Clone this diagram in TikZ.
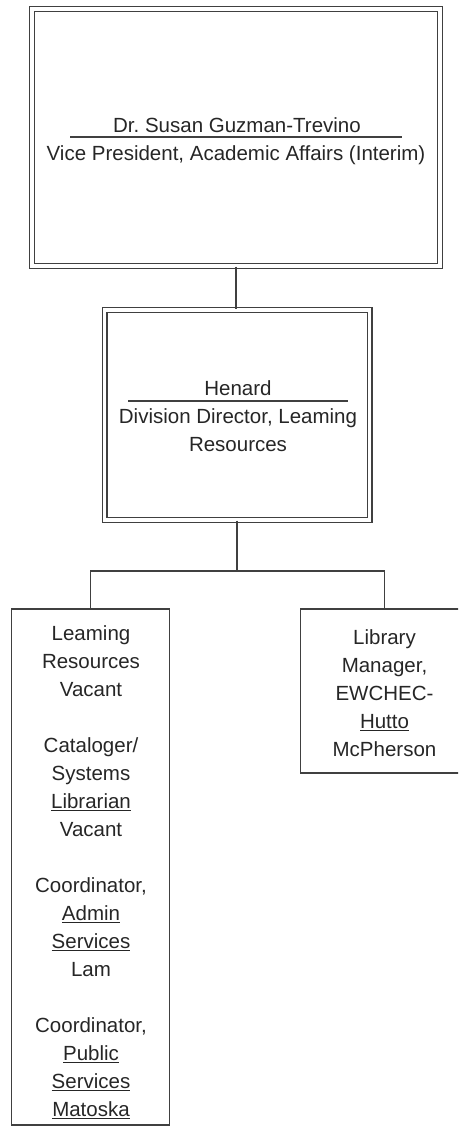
\documentclass[tikz,border=0pt]{standalone}
\usepackage{fontspec}
\setmainfont{Liberation Sans}
\usetikzlibrary{positioning, calc}

\definecolor{linegray}{RGB}{64,64,64}
\definecolor{txtgray}{RGB}{38,38,38}

\newlength{\undlwd}
\newcommand{\undl}[1]{\settowidth{\undlwd}{#1}\rlap{\rule[-3pt]{\undlwd}{1.3pt}}#1}
\frenchspacing

\begin{document}
\begin{tikzpicture}[x=1pt, y=-1pt,
  dbox/.style={draw=linegray, line width=1.2pt, double, double distance=3.6pt},
  sbox/.style={draw=linegray, line width=1.3pt},
  txt/.style={text=txtgray, font=\fontsize{20.5}{28}\selectfont, align=center,
    inner sep=0pt, anchor=base},
  namerule/.style={draw=linegray, line width=1.2pt},
  link/.style={draw=linegray, line width=1.3pt}]

\useasboundingbox (0,0) rectangle (458,1127);
\clip (0,0) rectangle (458,1127);

\node[dbox, minimum width=408pt, minimum height=257pt] (vp) at (236,137.5) {};
\node[dbox, minimum width=265pt, minimum height=210pt] (dir) at (237,415) {};
\node[sbox, minimum width=158pt, minimum height=516pt] (lr) at (90.5,867) {};
\node[sbox, minimum width=168pt, minimum height=164pt] (mgr) at (384.5,691) {};

% multi-line texts sit on the baseline of their last line
\node[txt] (vpname) at (237,132) {Dr. Susan Guzman-Trevino};
\node[txt] (vptitle) at (236,160) {Vice President, Academic Affairs (Interim)};
\draw[namerule] (70,137) -- (402,137);

\node[txt] (dirname) at (238,395) {Henard};
\node[txt] (dirtitle) at (238,451) {Division Director, Leaming\\Resources};
\draw[namerule] (128,401) -- (348,401);

\node[txt] (lrtext) at (91,1116) {Leaming\\Resources\\Vacant\\[28pt]Cataloger/\\Systems\\\undl{Librarian}\\Vacant\\[28pt]Coordinator,\\\undl{Admin}\\\undl{Services}\\Lam\\[28pt]Coordinator,\\\undl{Public}\\\undl{Services}\\\undl{Matoska}};
\node[txt] (mgrtext) at (384.5,756) {Library\\Manager,\\EWCHEC-\\\undl{Hutto}\\McPherson};

\coordinate (split) at (237,571);

\draw[link] (vp.south) -- (vp.south |- dir.north);
\draw[link] (dir.south) -- (split);
\draw[link] (lr.north) |- (split) -| (mgr.north);

\end{tikzpicture}
\end{document}
